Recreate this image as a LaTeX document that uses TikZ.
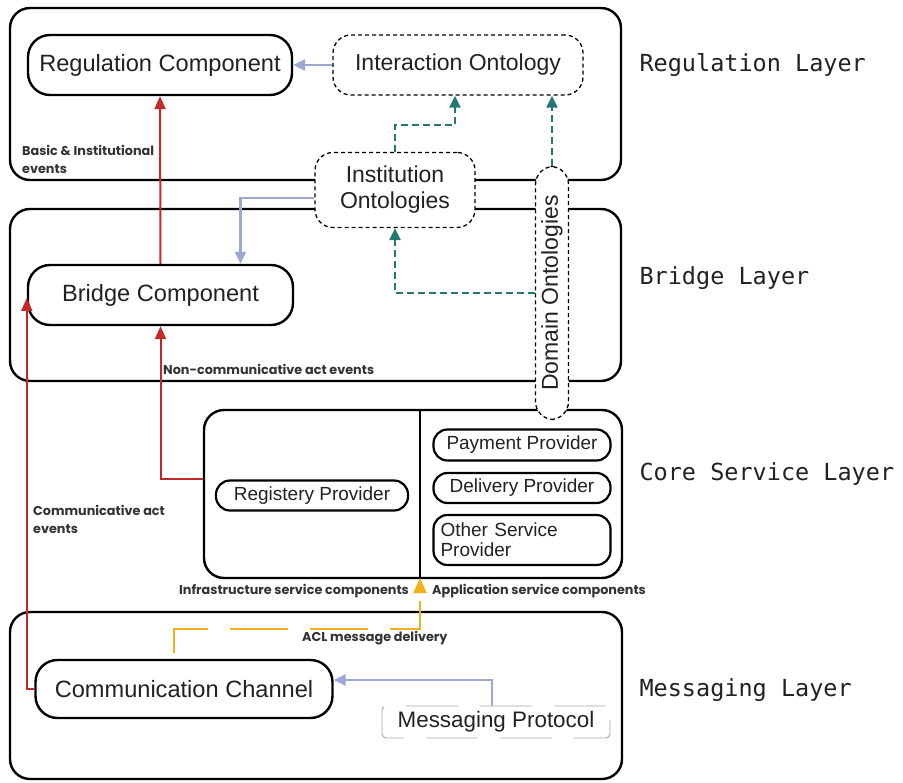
\documentclass[tikz,border=0pt]{standalone}
\usepackage{fontspec}
\setmainfont{Liberation Sans}
\newfontfamily\layerfont{DejaVu Sans Mono}
\newfontfamily\notefont{Poppins}
\usetikzlibrary{arrows.meta,calc}

\definecolor{regred}{RGB}{196,40,40}
\definecolor{lavender}{RGB}{158,166,212}
\definecolor{tealdash}{RGB}{40,120,114}
\definecolor{aclorange}{RGB}{242,178,30}
\definecolor{inktext}{RGB}{34,34,34}
\definecolor{notetext}{RGB}{51,51,51}

\tikzset{
  layerbox/.style={draw, line width=2.4pt, rounded corners=20pt, inner sep=0pt},
  compbox/.style={draw, line width=2.4pt, rounded corners=22pt, fill=white,
    text=inktext, font=\fontsize{23.6}{26}\selectfont, inner sep=0pt},
  provbox/.style={draw, line width=2.2pt, rounded corners=14pt, fill=white,
    text=inktext, font=\fontsize{19}{21}\selectfont, inner sep=0pt},
  ontobox/.style={draw, line width=1.3pt, dash pattern=on 4pt off 3pt,
    rounded corners=18pt, fill=white, text=inktext,
    font=\fontsize{23}{26}\selectfont, inner sep=0pt, align=center},
  layertag/.style={anchor=west, text=inktext, font=\layerfont\fontsize{23.5}{26}\selectfont},
  note/.style={anchor=west, text=notetext, align=left, inner sep=0pt,
    font=\notefont\bfseries\fontsize{12.8}{18}\selectfont},
  redline/.style={draw=regred, line width=2pt, -{Triangle[length=13pt,width=11pt]}},
  lavline/.style={draw=lavender, line width=2.5pt, -{Triangle[length=12pt,width=11pt]}},
  tealline/.style={draw=tealdash, line width=2.5pt, dash pattern=on 7pt off 4pt,
    -{Triangle[length=12pt,width=11pt]}},
  aclline/.style={draw=aclorange, line width=2.5pt, dash pattern=on 58pt off 22pt,
    -{Triangle[length=15pt,width=13pt]}},
}

\begin{document}
\begin{tikzpicture}[x=1pt,y=-1pt]
\useasboundingbox (0,0) rectangle (903,783);

% layer frames
\node[layerbox, minimum width=611pt, minimum height=172pt] (reglayer) at (315.5,94) {};
\node[layerbox, minimum width=611pt, minimum height=172pt] (bridgelayer) at (315.5,295) {};
\node[layerbox, minimum width=418pt, minimum height=168pt] (core) at (413,494) {};
\node[layerbox, minimum width=612pt, minimum height=167pt] (msglayer) at (316,695.5) {};

% split of the core service layer
\coordinate (divtop) at (420,410);
\coordinate (divbot) at (420,578);
\draw[line width=2pt] (divtop) -- (divbot);

% layer names
\node[layertag] (tagreg) at (636,65) {Regulation Layer};
\node[layertag] (tagbridge) at (636,278) {Bridge Layer};
\node[layertag] (tagcore) at (636,474) {Core Service Layer};
\node[layertag] (tagmsg) at (636,690) {Messaging Layer};

% components
\node[compbox, minimum width=264pt, minimum height=60pt] (reg) at (160,65) {Regulation Component};
\node[ontobox, minimum width=250pt, minimum height=60pt] (inter) at (458,65) {Interaction Ontology};
\node[ontobox, minimum width=160pt, minimum height=75pt] (inst) at (395,190) {Institution\\Ontologies};
\node[ontobox, minimum width=33pt, minimum height=253pt] (domain) at (552,293) {};
\node[rotate=90, text=inktext, font=\fontsize{23}{26}\selectfont] (domaintext) at (domain.center) {Domain Ontologies};
\node[compbox, minimum width=265pt, minimum height=60pt] (bridge) at (160.5,295) {Bridge Component};

\node[provbox, minimum width=192pt, minimum height=30pt] (regprov) at (312,495.5) {Registery Provider};
\node[provbox, minimum width=177pt, minimum height=31pt] (pay) at (522,445) {Payment Provider};
\node[provbox, minimum width=177pt, minimum height=30pt] (deliv) at (522,488) {Delivery Provider};
\node[provbox, minimum width=177pt, minimum height=50pt, align=left, text width=163pt,
      font=\fontsize{19}{20}\selectfont] (other) at (522,540) {Other Service\\Provider};

\node[compbox, minimum width=297pt, minimum height=58pt] (comm) at (184,689) {Communication Channel};
\node[draw=gray!70, line width=0.9pt, dash pattern=on 52pt off 22pt, rounded corners=4pt,
      minimum width=228pt, minimum height=32pt, inner sep=0pt, text=inktext,
      font=\fontsize{22.4}{24}\selectfont] (msgp) at (496,722) {Messaging Protocol};

% event and component notes
\node[note] (basicnote) at (22,159) {Basic \& Institutional\\events};
\node[note] (noncomm) at (163,369) {Non-communicative act events};
\node[note] (commnote) at (33,519) {Communicative act\\events};
\node[note] (infra) at (179,591) {Infrastructure service components};
\node[note] (appl) at (432,591) {Application service components};
\node[note] (acl) at (302,638) {ACL message delivery};

% event flows
\draw[redline] (bridge.north) -- (reg.south);
\coordinate (corein) at ([yshift=15pt]core.west);
\draw[redline] (corein) -| (bridge.south);
\draw[redline] (comm.west) -- (comm.west -| bridge.west) -- ([yshift=-3pt]bridge.west);

% ontology links
\draw[lavline] (inter.west) -- (reg.east);
\draw[lavline] ([yshift=-8pt]inst.west) -| ([xshift=80pt]bridge.north);
\draw[tealline] (inst.north) -- ++(0,-27) -| ([xshift=-3pt]inter.south);
\draw[tealline] (domain.north) -- (domain.north |- inter.south);
\draw[tealline] (domain.west) -| (inst.south);

% messaging
\draw[aclline] ([xshift=-10pt,yshift=6pt]comm.north) -- ++(0,-24) -| (divbot);
\draw[lavline] ([xshift=-4pt]msgp.north) |- ([yshift=9pt]comm.east);
\end{tikzpicture}
\end{document}
